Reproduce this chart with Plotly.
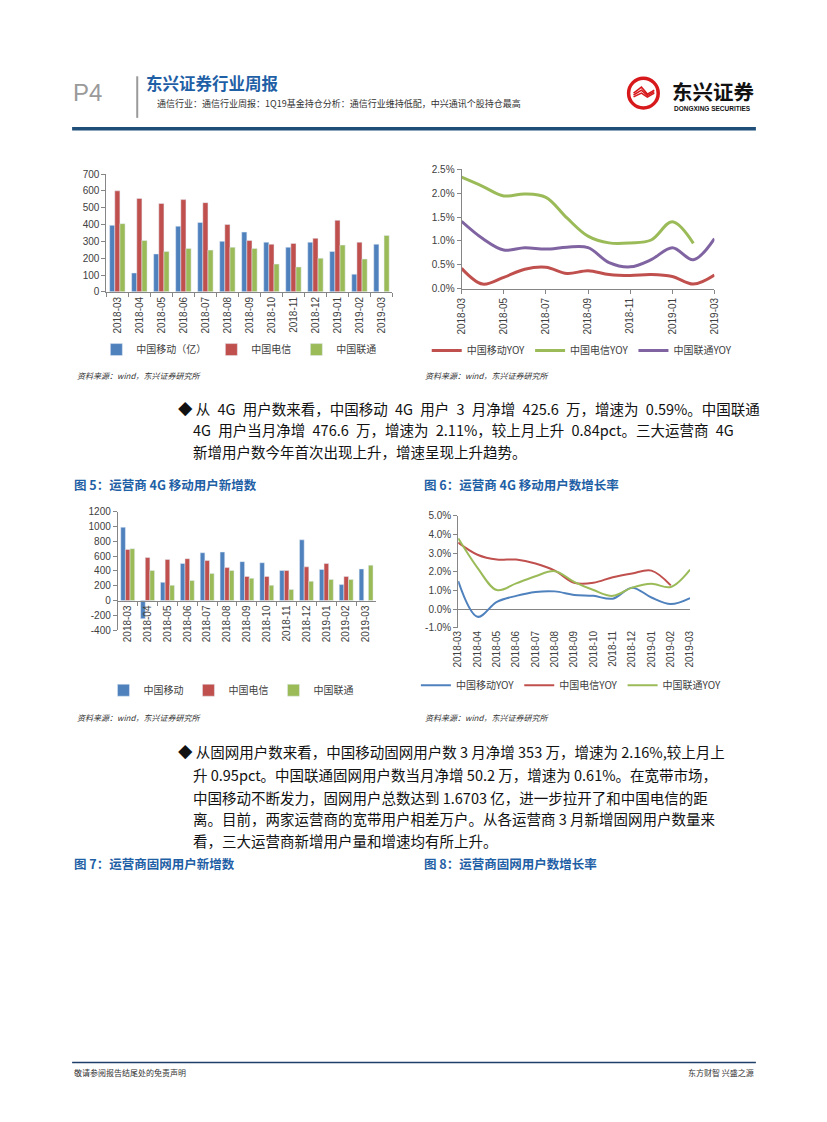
import plotly.graph_objects as go

W, H = 827, 1122


def px(x):
    return x / W


def py(y):
    return 1 - y / H


months = ["2018-03", "2018-04", "2018-05", "2018-06", "2018-07", "2018-08", "2018-09",
          "2018-10", "2018-11", "2018-12", "2019-01", "2019-02", "2019-03"]

# Chart 1 (bars)
c1_mobile = [395, 112, 225, 390, 412, 300, 355, 295, 265, 295, 240, 105, 283]
c1_telecom = [600, 555, 525, 548, 530, 400, 305, 283, 288, 318, 425, 295, None]
c1_unicom = [405, 305, 240, 258, 248, 265, 258, 165, 148, 200, 278, 195, 335]

# Chart 2 (YOY lines, %)
c2_mobile = [0.43, 0.10, 0.24, 0.41, 0.45, 0.32, 0.38, 0.30, 0.28, 0.30, 0.26, 0.10, 0.29]
c2_telecom = [2.33, 2.14, 1.94, 1.98, 1.91, 1.48, 1.10, 0.96, 0.96, 1.02, 1.40, 0.95, None]
c2_unicom = [1.41, 1.05, 0.81, 0.86, 0.83, 0.87, 0.86, 0.55, 0.46, 0.61, 0.86, 0.61, 1.05]

# Chart 3 (4G new users, bars)
c3_mobile = [990, -245, 245, 500, 645, 655, 525, 510, 405, 820, 420, 215, 426]
c3_telecom = [690, 580, 555, 565, 540, 445, 325, 325, 405, 455, 500, 325, None]
c3_unicom = [700, 405, 205, 270, 365, 405, 300, 205, 150, 260, 285, 285, 477]
c3_ticks = [-400, -200, 0, 200, 400, 600, 800, 1000, 1200]
c3_ticktext = ["-400", "-200", "0", "200", "400", "600", "800", "1000", "1200"]

# Chart 4 (4G growth, %)
c4_mobile = [1.50, -0.41, 0.39, 0.71, 0.92, 0.95, 0.76, 0.71, 0.56, 1.15, 0.62, 0.27, 0.59]
c4_telecom = [3.56, 2.91, 2.65, 2.65, 2.44, 2.06, 1.41, 1.41, 1.71, 1.91, 2.06, 1.27, None]
c4_unicom = [3.79, 2.21, 1.02, 1.38, 1.76, 2.03, 1.46, 1.02, 0.71, 1.15, 1.36, 1.18, 2.11]
c4_ticks = [-1, 0, 1, 2, 3, 4, 5]
c4_ticktext = ["-1.0%", "0.0%", "1.0%", "2.0%", "3.0%", "4.0%", "5.0%"]

BLUE, RED, GREEN, PURPLE = "#4F81BD", "#C0504D", "#9BBB59", "#8064A2"
CJK = "Noto Sans CJK SC"
TICK = dict(family="Liberation Sans, Arial", size=10, color="#404040")
AXC = "#868686"

fig = go.Figure()

# ---- chart 1
for name, vals, col in [("中国移动（亿）", c1_mobile, BLUE), ("中国电信", c1_telecom, RED),
                        ("中国联通", c1_unicom, GREEN)]:
    fig.add_trace(go.Bar(x=months, y=vals, name=name, marker_color=col,
                         xaxis="x", yaxis="y", legend="legend"))

# ---- chart 2
for name, vals, col in [("中国移动YOY", c2_mobile, RED), ("中国电信YOY", c2_telecom, GREEN),
                        ("中国联通YOY", c2_unicom, PURPLE)]:
    fig.add_trace(go.Scatter(x=months, y=vals, name=name, mode="lines",
                             line=dict(color=col, width=3, shape="spline", smoothing=1.0),
                             xaxis="x2", yaxis="y2", legend="legend2"))

# ---- chart 3
for name, vals, col in [("中国移动", c3_mobile, BLUE), ("中国电信", c3_telecom, RED),
                        ("中国联通", c3_unicom, GREEN)]:
    fig.add_trace(go.Bar(x=months, y=vals, name=name, marker_color=col,
                         xaxis="x3", yaxis="y3", legend="legend3"))

# ---- chart 4
for name, vals, col in [("中国移动YOY", c4_mobile, BLUE), ("中国电信YOY", c4_telecom, RED),
                        ("中国联通YOY", c4_unicom, GREEN)]:
    fig.add_trace(go.Scatter(x=months, y=vals, name=name, mode="lines",
                             line=dict(color=col, width=2, shape="spline", smoothing=1.0),
                             xaxis="x4", yaxis="y4", legend="legend4"))

y1d = [py(289.7), py(170.7)]
y2d = [py(286.7), py(165.7)]
y3d = [py(631.3), py(511.7)]
y4d = [py(629), py(515.7)]
x3pos = y3d[0] + (400 / 1600) * (y3d[1] - y3d[0])

common_x = dict(type="category", tickangle=-90, tickfont=TICK, showgrid=False,
                zeroline=False, linecolor=AXC, linewidth=1, ticklen=4, tickcolor=AXC)
common_y = dict(tickfont=TICK, showgrid=False, zeroline=False, showline=True,
                linecolor=AXC, linewidth=1, ticks="outside", ticklen=4, tickcolor=AXC)

legfont = dict(family=CJK, size=10, color="#404040")


def leg(xc, yc):
    return dict(orientation="h", x=px(xc), y=py(yc), xanchor="center", yanchor="middle",
                font=legfont, bgcolor="rgba(0,0,0,0)", itemwidth=30, tracegroupgap=0)


fig.update_layout(
    width=W, height=H, margin=dict(l=0, r=0, t=0, b=0),
    paper_bgcolor="white", plot_bgcolor="rgba(0,0,0,0)",
    barmode="group", bargap=0.3, bargroupgap=0,
    xaxis=dict(domain=[px(101.7), px(391.7)], anchor="y", showline=True,
               ticks="outside", tickson="boundaries", **common_x),
    yaxis=dict(domain=y1d, anchor="x", range=[0, 700], dtick=100, **common_y),
    xaxis2=dict(domain=[px(461.7), px(718)], anchor="y2", showline=True,
                tickvals=months[::2], ticks="outside", **common_x),
    yaxis2=dict(domain=y2d, anchor="x2", range=[0, 2.5], dtick=0.5, tickformat=".1f",
                ticksuffix="%", **common_y),
    xaxis3=dict(domain=[px(113.3), px(375)], anchor="free", position=x3pos, showline=True,
                ticks="outside", tickson="boundaries", **common_x),
    yaxis3=dict(domain=y3d, anchor="x3", range=[-400, 1200], tickvals=c3_ticks,
                ticktext=c3_ticktext, **common_y),
    xaxis4=dict(domain=[px(458.3), px(693.3)], anchor="y4", showline=False, ticks="",
                **common_x),
    yaxis4=dict(domain=y4d, anchor="x4", range=[-1, 5], tickvals=c4_ticks,
                ticktext=c4_ticktext, **{**common_y, "zeroline": True},
                zerolinecolor=AXC, zerolinewidth=1),
    legend=leg(236, 348),
    legend2=leg(584, 349),
    legend3=leg(228, 692),
    legend4=leg(573, 687),
    showlegend=True,
)

shapes = []
ann = []


def text(x, y, s, size, color="#111111", anchor="left", family=CJK):
    ann.append(dict(x=px(x), y=py(y), xref="paper", yref="paper", text=s, showarrow=False,
                    xanchor=anchor, yanchor="middle", font=dict(family=family, size=size, color=color)))


# header
text(66, 88, "P4", 24, "#9a9a9a", family="Liberation Sans, Arial")
shapes.append(dict(type="line", xref="paper", yref="paper", x0=px(133), x1=px(133),
                   y0=py(72), y1=py(114), line=dict(color="#9a9a9a", width=2)))
text(140, 79, "<b>东兴证券行业周报</b>", 16.5, "#1F5FA6")
text(151, 99, "通信行业：通信行业周报：1Q19基金持仓分析：通信行业维持低配，中兴通讯个股持仓最高", 9, "#333333")
shapes.append(dict(type="line", xref="paper", yref="paper", x0=px(67), x1=px(760),
                   y0=py(125), y1=py(125), line=dict(color="#1F4E79", width=3.5)))
# logo
shapes.append(dict(type="circle", xref="paper", yref="paper", x0=px(631), x1=px(661),
                   y0=py(104), y1=py(74), line=dict(color="#D7191C", width=3.5), fillcolor="white"))
for d in (0, 3, 6):
    shapes.append(dict(type="path", xref="paper", yref="paper",
                       path=f"M {px(636)},{py(91 + d * 0.3 - 2 + d / 3)} L {px(644)},{py(83 + d)} "
                            f"L {px(650)},{py(90 + d * 0.5)} L {px(657)},{py(86 + d * 0.5)}",
                       line=dict(color="#D7191C", width=1.6)))
text(673, 87, "<b>东兴证券</b>", 20.5, "#111111")
text(675, 104.5, "<b>DONGXING SECURITIES</b>", 6.5, "#111111", family="Liberation Sans, Arial")

# sources
src = "<i>资料来源：wind，东兴证券研究所</i>"
text(70, 374, src, 8, "#333333")
text(423, 374, src, 8, "#333333")
text(70, 720, src, 8, "#333333")
text(423, 720, src, 8, "#333333")

# paragraph 1
P = 14.5
S = "\u2002"
text(172, 407, f"◆ 从{S}4G{S}用户数来看，中国移动{S}4G{S}用户{S}3{S}月净增{S}425.6{S}万，增速为{S}0.59%。中国联通", P)
text(187, 429, f"4G{S}用户当月净增{S}476.6{S}万，增速为{S}2.11%，较上月上升{S}0.84pct。三大运营商{S}4G", P)
text(187, 451, "新增用户数今年首次出现上升，增速呈现上升趋势。", P)

CAP = "#1F5FA6"
text(67, 484, "<b>图 5：运营商 4G 移动用户新增数</b>", 12.5, CAP)
text(422, 484, "<b>图 6：运营商 4G 移动用户数增长率</b>", 12.5, CAP)

# paragraph 2
text(172, 754, "◆ 从固网用户数来看，中国移动固网用户数 3 月净增 353 万，增速为 2.16%,较上月上", P)
text(187, 777, "升 0.95pct。中国联通固网用户数当月净增 50.2 万，增速为 0.61%。在宽带市场，", P)
text(187, 800, "中国移动不断发力，固网用户总数达到 1.6703 亿，进一步拉开了和中国电信的距", P)
text(187, 822, "离。目前，两家运营商的宽带用户相差万户。从各运营商 3 月新增固网用户数量来", P)
text(187, 844, "看，三大运营商新增用户量和增速均有所上升。", P)

text(67, 867, "<b>图 7：运营商固网用户新增数</b>", 12.5, CAP)
text(422, 867, "<b>图 8：运营商固网用户数增长率</b>", 12.5, CAP)

# footer
shapes.append(dict(type="line", xref="paper", yref="paper", x0=px(67), x1=px(760),
                   y0=py(1068), y1=py(1068), line=dict(color="#1F3F6B", width=1.5)))
text(67, 1078, "敬请参阅报告结尾处的免责声明", 8, "#333333")
text(760, 1078, "东方财智 兴盛之源", 8, "#333333", anchor="right")

fig.update_layout(shapes=shapes, annotations=ann)
fig.write_html("out.html", config={"displayModeBar": False},
               post_script="document.body.style.margin='0px';")
